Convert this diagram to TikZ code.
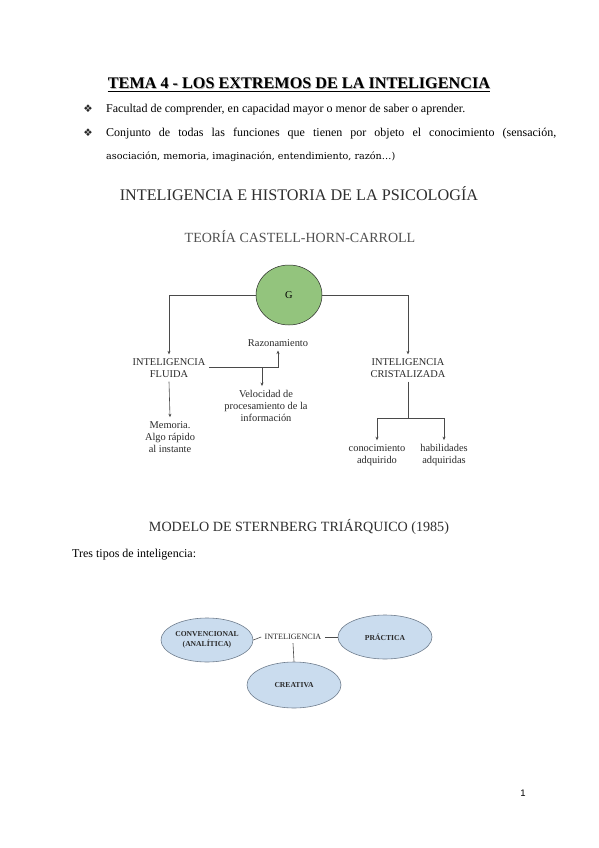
\documentclass[tikz,border=0pt]{standalone}
\usepackage{fontspec}
\setmainfont{Liberation Serif}
\newfontfamily\dejavu{DejaVu Sans}
\newfontfamily\dejaserif{DejaVu Serif}
\newfontfamily\pagesans{Liberation Sans}
\usetikzlibrary{arrows.meta,shapes.geometric}
\definecolor{headgray}{HTML}{2E2E2E}
\definecolor{subgray}{HTML}{505050}
\definecolor{diaggray}{HTML}{2A2A2A}
\definecolor{linegray}{HTML}{4A4A4A}
\definecolor{gfill}{HTML}{93C47D}
\definecolor{ellfill}{HTML}{CADCEE}
\definecolor{elldraw}{HTML}{707E8E}
\begin{document}
\begin{tikzpicture}[x=1pt,y=-1pt,
  body/.style={inner sep=0pt, anchor=base west, font=\fontsize{12}{14}\selectfont},
  bul/.style={inner sep=0pt, anchor=base, font=\dejavu\fontsize{10.5}{12}\selectfont, text=black!85},
  dtxt/.style={inner sep=0pt, outer sep=4pt, align=center, text=diaggray, font=\fontsize{10.4}{12.3}\selectfont},
  arr/.style={draw=linegray, line width=0.6pt, -{Stealth[length=3.5pt,width=3pt]}},
  ln/.style={draw=linegray, line width=0.6pt},
  gnode/.style={ellipse, draw=diaggray, line width=0.5pt, fill=gfill, minimum width=66pt, minimum height=60pt, inner sep=0pt, font=\fontsize{10.4}{12}\selectfont},
  tri/.style={ellipse, draw=elldraw, line width=0.6pt, fill=ellfill, inner sep=0pt, align=center, text=diaggray, font=\bfseries\fontsize{7.6}{10}\selectfont},
  sline/.style={draw=linegray, line width=0.6pt}
]
\useasboundingbox[fill=white] (0,0) rectangle (599,848);

% Title
\node[inner sep=0pt, anchor=base, font=\bfseries\fontsize{16.2}{18}\selectfont, text=black!30] (titleshadow) at (299.8,89.8) {TEMA 4 - LOS EXTREMOS DE LA INTELIGENCIA};
\node[inner sep=0pt, anchor=base, font=\bfseries\fontsize{16.2}{18}\selectfont] (title) at (299,89) {TEMA 4 - LOS EXTREMOS DE LA INTELIGENCIA};
\draw[line width=0.9pt] ([yshift=-2.6pt]title.base west) -- ([yshift=-2.6pt]title.base east);

% Bullets
\node[bul] (b1) at (88,113) {❖};
\node[body] (t1) at (106,113) {Facultad de comprender, en capacidad mayor o menor de saber o aprender.};
\node[bul] (b2) at (88,136) {❖};
\node[body] (t2) at (106,136) {\hbox to 450pt{Conjunto de todas las funciones que tienen por objeto el conocimiento (sensación,}};
\node[inner sep=0pt, anchor=base west, font=\dejaserif\fontsize{9.6}{12}\selectfont] (t3) at (106,159) {asociación, memoria, imaginación, entendimiento, razón…)};

% Headings
\node[inner sep=0pt, anchor=base, text=headgray, font=\fontsize{16.2}{18}\selectfont] (h1) at (299,200.5) {INTELIGENCIA E HISTORIA DE LA PSICOLOGÍA};
\node[inner sep=0pt, anchor=base, text=subgray, font=\fontsize{14}{16}\selectfont] (h2) at (300,242) {TEORÍA CASTELL-HORN-CARROLL};

% CHC diagram
\node[gnode] (G) at (289,295) {G};
\node[dtxt] (fluida) at (169,368) {INTELIGENCIA\\FLUIDA};
\node[dtxt] (crist) at (408,368) {INTELIGENCIA\\CRISTALIZADA};
\node[dtxt] (razon) at (278,343) {Razonamiento};
\node[dtxt] (veloc) at (266,406) {Velocidad de\\procesamiento de la\\información};
\node[dtxt] (memo) at (170,437) {Memoria.\\Algo rápido\\al instante};
\node[dtxt] (conoc) at (377,455) {conocimiento\\adquirido};
\node[dtxt] (habil) at (444,455) {habilidades\\adquiridas};

\coordinate (fj) at (262,367);
\coordinate (cj) at (408,418);

\draw[arr] (G.west) -| (fluida.north);
\draw[arr] (G.east) -| (crist.north);
\draw[arr] (fluida.east |- fj) -| (razon.south);
\draw[arr] (fj) -- (fj |- veloc.north);
\draw[arr] (fluida.south) -- (memo.north);
\draw[ln] (crist.south) -- (cj);
\draw[arr] (cj) -| (conoc.north);
\draw[arr] (cj) -| (habil.north);

% Sternberg
\node[inner sep=0pt, anchor=base, text=headgray, font=\fontsize{14.1}{16}\selectfont] (h3) at (299,531) {MODELO DE STERNBERG TRIÁRQUICO (1985)};
\node[body] (t4) at (72,557) {Tres tipos de inteligencia:};

\node[tri, minimum width=92pt, minimum height=44pt] (conv) at (207,640) {CONVENCIONAL\\(ANALÍTICA)};
\node[tri, minimum width=94pt, minimum height=44pt] (prac) at (385,637) {PRÁCTICA};
\node[tri, minimum width=94pt, minimum height=46pt] (crea) at (294,685) {CREATIVA};
\node[inner sep=0pt, outer sep=3.5pt, text=diaggray, font=\fontsize{8.1}{10}\selectfont] (intel) at (293,637) {INTELIGENCIA};
\draw[sline] (conv.east) -- (intel.west);
\draw[sline] (intel.east) -- (prac.west);
\draw[sline] (intel.south) -- (crea.north);

% Page number
\node[inner sep=0pt, anchor=base, font=\pagesans\fontsize{9.5}{11}\selectfont] (pnum) at (523,796) {1};
\end{tikzpicture}
\end{document}
